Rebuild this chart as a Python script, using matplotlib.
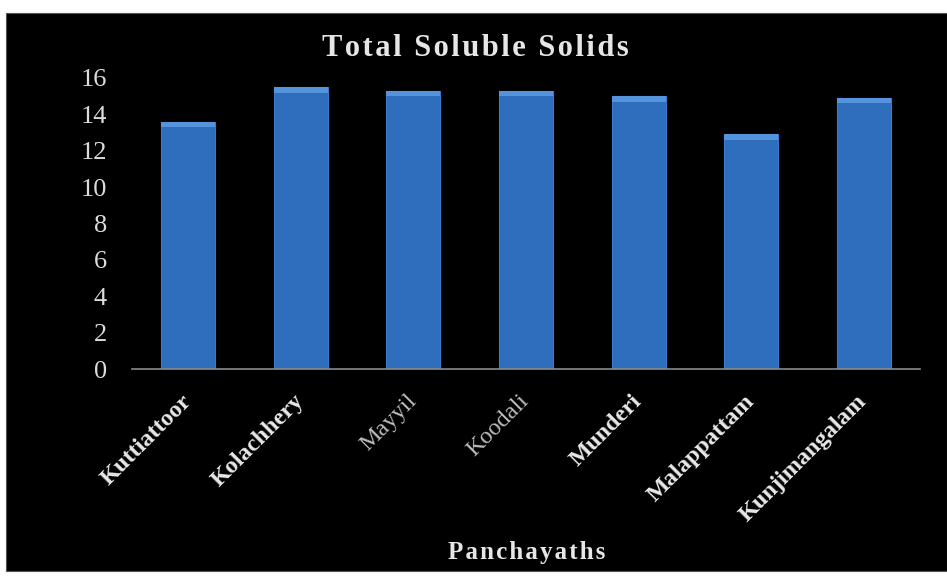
import numpy as np
import matplotlib.pyplot as plt
from matplotlib.patches import Rectangle

# TSS by panchayath
panchayaths = ['Kuttiattoor', 'Kolachhery', 'Mayyil', 'Koodali',
               'Munderi', 'Malappattam', 'Kunjimangalam']
tss = [13.6, 15.5, 15.3, 15.3, 15.0, 12.9, 14.9]
bold_label = [True, True, False, False, True, True, True]


def spaced(s):
    # loose letter spacing with hair spaces
    return '\u200a'.join(s)


fig = plt.figure(figsize=(9.47, 5.83), dpi=100, facecolor='white')
# black chart area behind everything
fig.patches.append(Rectangle((6 / 947, 1 - 571 / 583), 941 / 947, 558 / 583,
                             transform=fig.transFigure, facecolor='black',
                             edgecolor='#555555', linewidth=0.8, zorder=-10))

ax = fig.add_axes([132 / 947, 1 - 369 / 583, 788 / 947, 291 / 583])
ax.set_zorder(1)
ax.set_facecolor('black')

x = np.arange(len(panchayaths))
vals = np.array(tss)
ax.bar(x, vals, width=0.48, color='#2f6dbd', edgecolor='#3b7acb', linewidth=0.8, zorder=2)
# lighter bevel along the top of each bar
ax.bar(x, np.full(len(vals), 0.3), bottom=vals - 0.3, width=0.48,
       color='#5594dc', linewidth=0, zorder=3)

ax.set_xlim(-0.5, len(panchayaths) - 0.5)
ax.set_ylim(0, 16)
ax.set_yticks(range(0, 17, 2))

serif = ['Liberation Serif', 'DejaVu Serif']
for s in ['top', 'right', 'left']:
    ax.spines[s].set_visible(False)
ax.spines['bottom'].set_color('#8a8a8a')
ax.spines['bottom'].set_linewidth(1.2)
ax.tick_params(axis='both', length=0)
ax.tick_params(axis='y', pad=18)

for lab in ax.get_yticklabels():
    lab.set_fontfamily(serif)
    lab.set_fontsize(19)
    lab.set_color('#dcdcdc')

ax.set_xticks(x)
ax.set_xticklabels(panchayaths, rotation=45, ha='right', va='center',
                   rotation_mode='anchor')
for lab, b in zip(ax.get_xticklabels(), bold_label):
    lab.set_fontfamily(serif)
    lab.set_fontsize(17.5)
    lab.set_fontweight('bold' if b else 'normal')
    lab.set_color('#e8e8e8' if b else '#bdbdbd')
ax.tick_params(axis='x', pad=21)

fig.text(475 / 947, 1 - 48 / 583, spaced('Total Soluble Solids'), ha='center', va='center',
         fontfamily=serif, fontweight='bold', fontsize=22, color='#e6e6e6')
fig.text(527 / 947, 1 - 553 / 583, spaced('Panchayaths'), ha='center', va='center',
         fontfamily=serif, fontweight='bold', fontsize=18, color='#e6e6e6')

fig.savefig('out.png', dpi=100, facecolor='white')
